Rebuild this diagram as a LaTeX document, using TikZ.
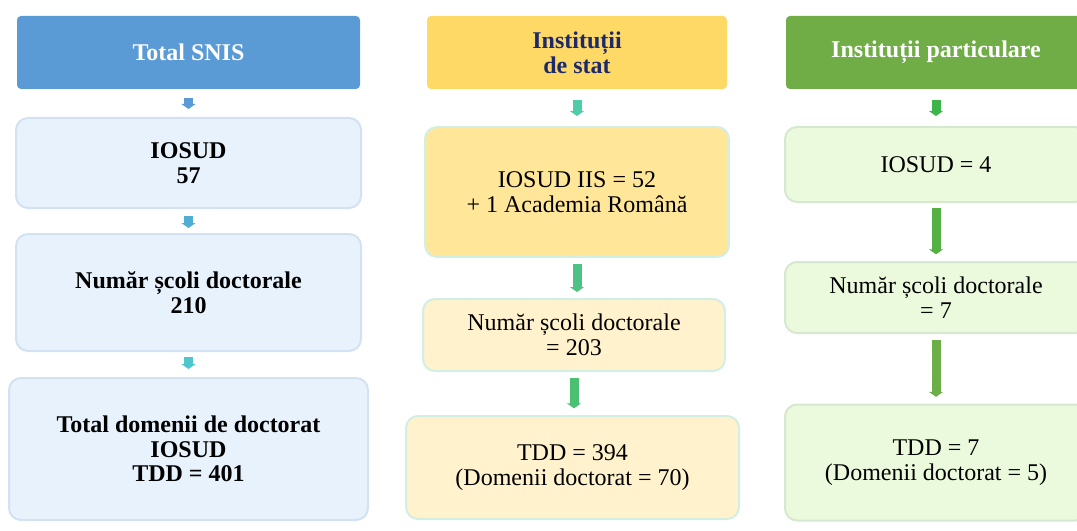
\documentclass[tikz,border=0pt]{standalone}
\usepackage{fontspec}
\setmainfont{Liberation Serif}
\usetikzlibrary{arrows.meta}
\definecolor{hblue}{HTML}{5B9BD5}
\definecolor{bblue}{HTML}{E7F2FD}
\definecolor{eblue}{HTML}{D3E2F2}
\definecolor{hyellow}{HTML}{FFD966}
\definecolor{byellow}{HTML}{FFE699}
\definecolor{lyellow}{HTML}{FFF2CC}
\definecolor{eyellow}{HTML}{D3EEE3}
\definecolor{navy}{HTML}{1C2A6B}
\definecolor{hgreen}{HTML}{70AD47}
\definecolor{bgreen}{HTML}{EBFADC}
\definecolor{egreen}{HTML}{D6E8CF}
\definecolor{aA}{HTML}{5B9BD5}
\definecolor{aB}{HTML}{4EAED3}
\definecolor{aC}{HTML}{4FC6CB}
\definecolor{aD}{HTML}{4FCDA8}
\definecolor{aE}{HTML}{4CC383}
\definecolor{aF}{HTML}{4BBF72}
\definecolor{aG}{HTML}{3DB54A}
\definecolor{aH}{HTML}{55B044}
\definecolor{aI}{HTML}{6CAE47}
\begin{document}
\begin{tikzpicture}[x=0.75pt,y=-0.75pt,
  box/.style={rounded corners=9pt, line width=1.5pt, align=center, inner sep=0pt,
    font=\fontsize{18}{18.5}\selectfont},
  bbox/.style={box, font=\bfseries\fontsize{18}{18.5}\selectfont},
  head/.style={box, rounded corners=3pt, font=\bfseries\fontsize{18}{18.5}\selectfont},
  flow/.style={line width=6.75pt, -{Triangle[width=10.5pt,length=3.75pt]}},
]
\useasboundingbox (0,0) rectangle (1077,531);
\clip (0,0) rectangle (1077,531);
% column 1
\node[head, fill=hblue, text=white, minimum width=343*0.75pt, minimum height=73*0.75pt] (h1) at (188.5,52.5) {Total SNIS};
\node[bbox, fill=bblue, draw=eblue, minimum width=345*0.75pt, minimum height=90*0.75pt] (b1a) at (188.5,163) {IOSUD\\57};
\node[bbox, fill=bblue, draw=eblue, minimum width=345*0.75pt, minimum height=117*0.75pt] (b1b) at (188.5,292.5) {Număr școli doctorale\\210};
\node[bbox, fill=bblue, draw=eblue, minimum width=359*0.75pt, minimum height=142*0.75pt] (b1c) at (188.5,449) {Total domenii de doctorat\\IOSUD\\TDD = 401};
% column 2
\node[head, fill=hyellow, text=navy, minimum width=300*0.75pt, minimum height=73*0.75pt] (h2) at (577,52.5) {Instituții\\de stat};
\node[box, fill=byellow, draw=eyellow, minimum width=304*0.75pt, minimum height=130*0.75pt] (b2a) at (577,192) {IOSUD IIS = 52\\+ 1 Academia Română};
\node[box, fill=lyellow, draw=eyellow, minimum width=302*0.75pt, minimum height=72*0.75pt] (b2b) at (574,335) {Număr școli doctorale\\= 203};
\node[box, fill=lyellow, draw=eyellow, minimum width=333*0.75pt, minimum height=103*0.75pt] (b2c) at (572.5,467.5) {TDD = 394\\(Domenii doctorat = 70)};
% column 3
\node[head, fill=hgreen, text=white, minimum width=300*0.75pt, minimum height=73*0.75pt] (h3) at (936,52.5) {Instituții particulare};
\node[box, fill=bgreen, draw=egreen, minimum width=302*0.75pt, minimum height=75*0.75pt] (b3a) at (936,164.5) {IOSUD = 4};
\node[box, fill=bgreen, draw=egreen, minimum width=302*0.75pt, minimum height=71*0.75pt] (b3b) at (936,297.5) {Număr școli doctorale\\= 7};
\node[box, fill=bgreen, draw=egreen, minimum width=302*0.75pt, minimum height=116*0.75pt] (b3c) at (936,462.5) {TDD = 7\\(Domenii doctorat = 5)};
% arrows
\draw[flow, aA, shorten <=6pt, shorten >=6pt] (h1.south) -- (b1a.north);
\draw[flow, aB, shorten <=5pt, shorten >=3.75pt] (b1a.south) -- (b1b.north);
\draw[flow, aC, shorten <=3.75pt, shorten >=6pt] (b1b.south) -- (b1c.north);
\draw[flow, aD, shorten <=7.5pt, shorten >=7.5pt] (h2.south) -- (b2a.north);
\draw[flow, aE, shorten <=4.5pt, shorten >=4.5pt] (b2a.south) -- (b2a.south |- b2b.north);
\draw[flow, aF, shorten <=4.5pt, shorten >=5pt] (b2b.south) -- (b2b.south |- b2c.north);
\draw[flow, aG, shorten <=7.5pt, shorten >=7.5pt] (h3.south) -- (b3a.north);
\draw[flow, aH, shorten <=4pt, shorten >=5pt] (b3a.south) -- (b3b.north);
\draw[flow, aI, shorten <=4.5pt, shorten >=5pt] (b3b.south) -- (b3c.north);
\end{tikzpicture}
\end{document}
